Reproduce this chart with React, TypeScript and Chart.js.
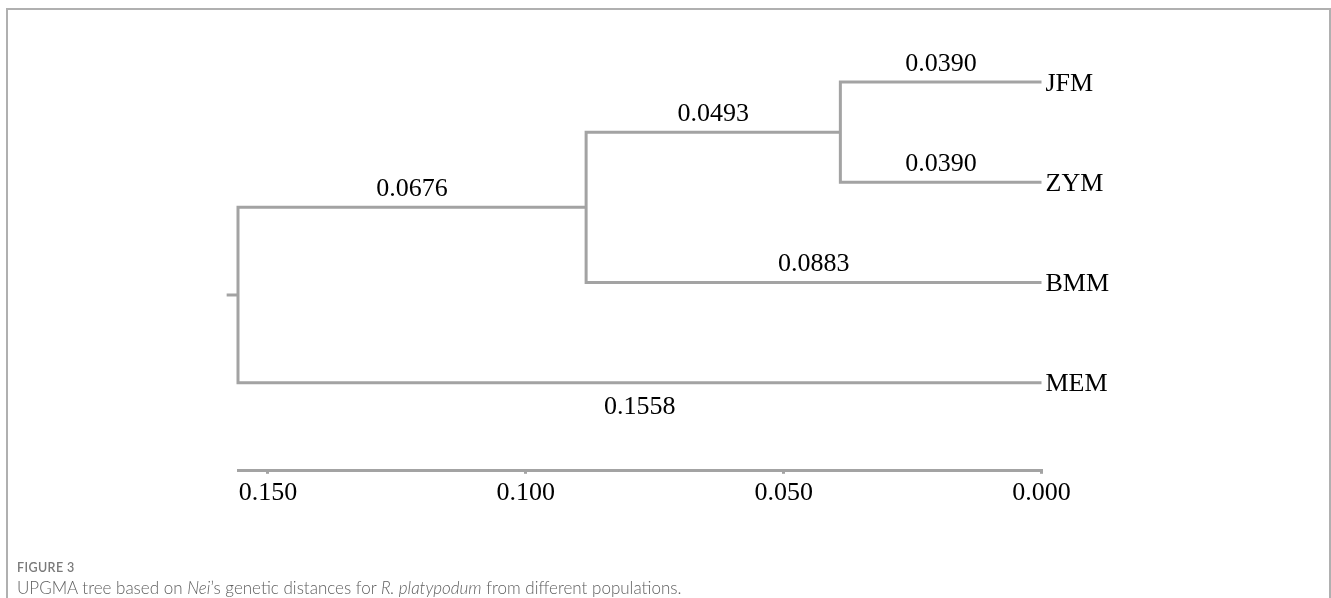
import React, { useEffect, useRef } from 'react';
import { Chart, registerables } from 'chart.js';

Chart.register(...registerables);

// ---- data ----
const leafNames = ['JFM', 'ZYM', 'BMM', 'MEM'];
const leafRows = [1, 2, 3, 4];
const nodeNames = ['n1', 'n2', 'root'];
const nodeHeights = [0.039, 0.0883, 0.1558];
const nodeChildA = ['JFM', 'n1', 'n2'];
const nodeChildB = ['ZYM', 'BMM', 'MEM'];
const rootStubEnd = 0.158;
const branchChild = ['JFM', 'ZYM', 'n1', 'BMM', 'n2', 'MEM'];
const branchLabelText = ['0.0390', '0.0390', '0.0493', '0.0883', '0.0676', '0.1558'];
const branchLabelBelow = [false, false, false, false, false, true];
const axisTicks = [0.15, 0.1, 0.05, 0.0];

const LINE = '#a3a3a3';
const SERIF = '"Liberation Serif", "Times New Roman", serif';

type P = { h: number; y: number; parent?: string };

function buildTree() {
  const pos: Record<string, P> = {};
  leafNames.forEach((n, i) => (pos[n] = { h: 0, y: leafRows[i] }));
  nodeNames.forEach((n, i) => {
    const a = pos[nodeChildA[i]];
    const b = pos[nodeChildB[i]];
    pos[n] = { h: nodeHeights[i], y: (a.y + b.y) / 2 };
    a.parent = n;
    b.parent = n;
  });
  return pos;
}

export default function App() {
  const ref = useRef<HTMLCanvasElement | null>(null);

  useEffect(() => {
    if (!ref.current) return;
    const pos = buildTree();
    const datasets: any[] = [];
    nodeNames.forEach((n, i) => {
      const p = pos[n];
      const a = pos[nodeChildA[i]];
      const b = pos[nodeChildB[i]];
      datasets.push({
        data: [
          { x: a.h, y: a.y },
          { x: p.h, y: a.y },
          { x: p.h, y: b.y },
          { x: b.h, y: b.y },
        ],
      });
    });
    const root = pos[nodeNames[nodeNames.length - 1]];
    datasets.push({
      data: [
        { x: root.h, y: root.y },
        { x: rootStubEnd, y: root.y },
      ],
    });
    datasets.forEach((d) => {
      Object.assign(d, {
        showLine: true,
        borderColor: LINE,
        backgroundColor: LINE,
        borderWidth: 3,
        borderJoinStyle: 'miter',
        borderCapStyle: 'butt',
        pointRadius: 0,
        pointHoverRadius: 0,
        tension: 0,
        clip: false,
      });
    });

    const labelPlugin = {
      id: 'treeLabels',
      afterDatasetsDraw(chart: any) {
        const ctx = chart.ctx;
        const xs = chart.scales.x;
        const ys = chart.scales.y;
        ctx.save();
        ctx.fillStyle = '#000';
        ctx.font = `26px ${SERIF}`;
        // leaf labels
        ctx.textAlign = 'left';
        ctx.textBaseline = 'middle';
        leafNames.forEach((n) => {
          const p = pos[n];
          ctx.fillText(n, xs.getPixelForValue(p.h) + 4, ys.getPixelForValue(p.y) + 2);
        });
        // branch length labels
        ctx.textAlign = 'center';
        branchChild.forEach((c, i) => {
          const p = pos[c];
          const par = pos[p.parent as string];
          const x = (xs.getPixelForValue(p.h) + xs.getPixelForValue(par.h)) / 2;
          const yLine = ys.getPixelForValue(p.y);
          const y = branchLabelBelow[i] ? yLine + 25 : yLine - 18;
          ctx.fillText(branchLabelText[i], x, y);
        });
        ctx.restore();
      },
    };

    const chart = new Chart(ref.current, {
      type: 'scatter',
      data: { datasets },
      options: {
        animation: false,
        responsive: false,
        events: [],
        layout: { padding: { left: 238, right: 289.5, top: 22, bottom: 85 } },
        plugins: { legend: { display: false }, tooltip: { enabled: false } },
        scales: {
          x: {
            type: 'linear',
            reverse: true,
            min: 0,
            max: nodeHeights[nodeHeights.length - 1],
            afterBuildTicks: (scale: any) => {
              scale.ticks = axisTicks.map((v) => ({ value: v }));
            },
            ticks: {
              callback: (v: any) => Number(v).toFixed(3),
              font: { family: SERIF, size: 26 },
              color: '#000',
              padding: 4,
              maxRotation: 0,
              autoSkip: false,
            },
            grid: {
              drawOnChartArea: false,
              drawTicks: true,
              tickLength: 3,
              color: LINE,
              lineWidth: 3,
            },
            border: { display: true, color: LINE, width: 3 },
          },
          y: {
            type: 'linear',
            display: false,
            reverse: true,
            min: 0.4,
            max: 4.88,
          },
        },
      },
      plugins: [labelPlugin],
    } as any);
    return () => chart.destroy();
  }, []);

  return (
    <div
      style={{
        position: 'absolute',
        left: 0,
        top: 0,
        width: 1331,
        height: 598,
        background: '#fff',
        overflow: 'hidden',
      }}
    >
      <div
        style={{
          position: 'absolute',
          left: 6,
          top: 8,
          width: 1325,
          height: 620,
          boxSizing: 'border-box',
          borderTop: '2px solid #b0b0b0',
          borderLeft: '2px solid #b0b0b0',
          borderRight: '2px solid #b0b0b0',
        }}
      />
      <canvas
        ref={ref}
        width={1331}
        height={598}
        style={{ position: 'absolute', left: 0, top: 0, width: 1331, height: 598 }}
      />
      <div
        style={{
          position: 'absolute',
          left: 17,
          top: 560,
          fontFamily: 'Lato, "Open Sans", sans-serif',
          fontSize: 12.5,
          fontWeight: 600,
          letterSpacing: 0.4,
          color: '#7a7a7a',
          lineHeight: '16px',
        }}
      >
        FIGURE 3
      </div>
      <div
        style={{
          position: 'absolute',
          left: 17,
          top: 577,
          fontFamily: 'Lato, "Open Sans", sans-serif',
          fontSize: 17,
          fontWeight: 300,
          color: '#606060',
          lineHeight: '22px',
          whiteSpace: 'nowrap',
        }}
      >
        UPGMA tree based on <i>Nei</i>’s genetic distances for <i>R. platypodum</i> from different populations.
      </div>
    </div>
  );
}
